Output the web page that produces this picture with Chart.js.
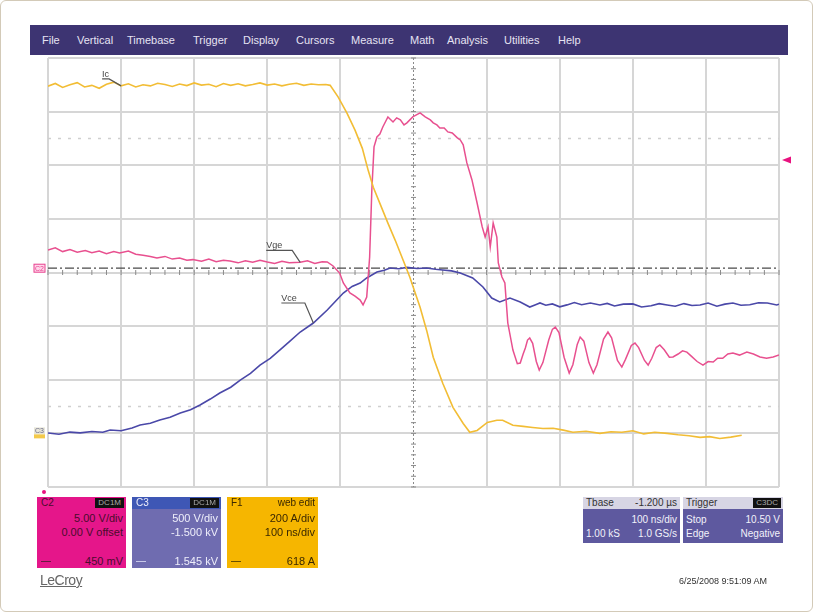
<!DOCTYPE html>
<html>
<head>
<meta charset="utf-8">
<script src="https://cdn.jsdelivr.net/npm/chart.js@4.4.1/dist/chart.umd.min.js"></script>
<style>
body { margin:0; width:815px; height:613px; background:#fff; overflow:hidden; position:relative;
       font-family:"Liberation Sans", Arial, sans-serif; }
#frame { position:absolute; left:0; top:0; width:811px; height:610px; border:1px solid #d3cab8; border-radius:6px; }
#scope { position:absolute; left:0; top:0; }
#menu { position:absolute; left:30px; top:25px; width:758px; height:30px; background:#3d3472; }
#menu span { position:absolute; top:9px; font-size:11px; color:#e6e3f3; }
.box { position:absolute; top:497px; height:71px; font-size:10px; }
.box div { position:absolute; white-space:nowrap; }
.hdr { left:0; top:0; right:0; height:12px; }
.badge { top:1px; right:2px; height:10px; padding:0 3px; background:#111; color:#aaa; font-size:8px; line-height:10px; }
.tb { position:absolute; top:497px; height:46px; font-size:10px; background:#5e599f; color:#f2f2fa; }
.tb div { position:absolute; white-space:nowrap; }
.tb .hdr { background:#d7d5e4; color:#333; }
</style>
</head>
<body>
<div id="frame"></div>
<canvas id="scope" width="815" height="613"></canvas>

<div id="menu">
  <span style="left:12px">File</span>
  <span style="left:47px">Vertical</span>
  <span style="left:97px">Timebase</span>
  <span style="left:163px">Trigger</span>
  <span style="left:213px">Display</span>
  <span style="left:266px">Cursors</span>
  <span style="left:321px">Measure</span>
  <span style="left:380px">Math</span>
  <span style="left:417px">Analysis</span>
  <span style="left:474px">Utilities</span>
  <span style="left:528px">Help</span>
</div>

<div class="box" style="left:37px; width:89px; background:#e5168a; color:#4a0c2c;">
  <div class="hdr"><div style="left:4px; top:0">C2</div><div class="badge">DC1M</div></div>
  <div style="right:3px; top:15px; font-size:11px">5.00 V/div</div>
  <div style="right:3px; top:29px; font-size:11px">0.00 V offset</div>
  <div style="left:4px; bottom:6px; width:10px; height:1px; background:#6a1a40"></div>
  <div style="right:3px; bottom:1px; font-size:11px">450 mV</div>
</div>
<div class="box" style="left:132px; width:89px; background:#6f6cb0; color:#eeeefa;">
  <div class="hdr" style="background:#3e57b5"><div style="left:4px; top:0">C3</div><div class="badge">DC1M</div></div>
  <div style="right:3px; top:15px; font-size:11px">500 V/div</div>
  <div style="right:3px; top:29px; font-size:11px">-1.500 kV</div>
  <div style="left:4px; bottom:6px; width:10px; height:1px; background:#c8c8e8"></div>
  <div style="right:3px; bottom:1px; font-size:11px">1.545 kV</div>
</div>
<div class="box" style="left:227px; width:91px; background:#f6b600; color:#3a2800;">
  <div class="hdr"><div style="left:4px; top:0">F1</div><div style="right:3px; top:0">web edit</div></div>
  <div style="right:3px; top:15px; font-size:11px">200 A/div</div>
  <div style="right:3px; top:29px; font-size:11px">100 ns/div</div>
  <div style="left:4px; bottom:6px; width:10px; height:1px; background:#6a5000"></div>
  <div style="right:3px; bottom:1px; font-size:11px">618 A</div>
</div>

<div class="tb" style="left:583px; width:97px;">
  <div class="hdr"><div style="left:3px">Tbase</div><div style="right:3px">-1.200 µs</div></div>
  <div style="right:3px; top:17px">100 ns/div</div>
  <div style="left:3px; top:31px">1.00 kS</div>
  <div style="right:3px; top:31px">1.0 GS/s</div>
</div>
<div class="tb" style="left:683px; width:100px;">
  <div class="hdr"><div style="left:3px">Trigger</div><div class="badge">C3DC</div></div>
  <div style="left:3px; top:17px">Stop</div>
  <div style="right:3px; top:17px">10.50 V</div>
  <div style="left:3px; top:31px">Edge</div>
  <div style="right:3px; top:31px">Negative</div>
</div>

<div style="position:absolute; left:40px; top:572px; font-size:14px; color:#666; text-decoration:underline; letter-spacing:-0.5px">LeCroy</div>
<div style="position:absolute; left:679px; top:576px; font-size:9px; color:#333">6/25/2008 9:51:09 AM</div>

<script>
// collector current Ic (F1, 200 A/div), time in ns from left edge of screen
const icTime = [0,10,20,30,40,50,60,70,80,90,100,110,120,130,140,150,160,170,180,190,
                200,210,220,230,240,250,260,270,280,290,300,310,320,330,340,350,360,370,380,386,
                397,409,420,430,438,445,454,465,475,486,495,509,518,527,540,554,568,577,587,601,
                614,622,636,650,663,677,691,705,718,736,755,770,785,800,815,830,847,862,877,892,
                905,919,934,949];
const icAmps = [1295,1305,1290,1300,1308,1292,1298,1287,1302,1310,1296,1304,1292,1300,1296,1306,1301,1294,1303,1297,
                1307,1299,1302,1293,1305,1298,1304,1296,1301,1307,1299,1303,1296,1302,1306,1298,1303,1300,1301,1298,
                1254,1194,1131,1063,981,918,858,784,720,645,582,470,384,284,187,97,37,4,11,41,
                49,49,30,26,22,18,19,12,4,8,0,6,4,10,-2,4,0,-5,-9,-15,
                -12,-19,-14,-7];

// gate voltage Vge (C2, 5 V/div)
const vgeTime = [0,10,20,30,40,51,60,70,80,90,
                 98,110,120,130,140,149,160,170,180,190,
                 198,210,220,230,240,249,260,270,280,290,
                 300,310,320,330,345,355,365,375,382,390,
                 399,404,413,420,427,431,436,440,443,446,
                 450,454,458,465,472,477,482,487,491,499,
                 509,516,523,527,532,536,542,547,553,560,
                 564,568,573,580,587,594,598,602,605,609,
                 614,616,621,625,629,636,642,646,650,653,
                 656,659,663,668,672,677,685,690,694,699,
                 706,713,718,724,728,733,740,746,751,760,
                 766,771,779,785,790,798,803,808,816,821,
                 826,832,837,843,850,855,862,868,874,880,
                 888,896,903,910,916,923,930,937,946,956,
                 965,974,983,992,1000];
const vgeVolts = [2.1,2.3,1.95,2.15,1.9,2.05,1.85,2.0,1.75,1.95,
                  1.82,2.0,1.7,1.6,1.5,1.35,1.5,1.25,1.35,1.15,
                  1.2,1.05,1.25,1.0,1.15,1.07,0.9,1.1,0.95,1.15,
                  0.98,0.85,1.05,0.9,0.95,1.1,0.85,1.0,0.98,0.61,
                  -0.05,-0.98,-1.91,-2.2,-2.57,-3.03,-2.29,1.45,7.7,11.71,
                  12.64,12.9,13.57,14.51,14.04,14.42,14.23,13.76,13.95,14.51,
                  14.88,14.51,14.23,13.95,13.76,13.48,13.48,13.11,13.01,12.55,
                  12.36,11.9,10.22,8.63,6.48,4.25,3.31,4.25,2.38,4.62,
                  3.31,0.89,-0.42,-0.98,-4.71,-7.23,-8.5,-8.44,-7.6,-7.04,
                  -6.3,-6.11,-6.6,-8.3,-9.1,-8.4,-6.3,-5.3,-5.08,-5.6,
                  -7.9,-9.38,-8.6,-6.7,-6.02,-6.4,-8.4,-9.38,-8.6,-6.2,
                  -5.55,-6.1,-8.2,-8.82,-8.1,-6.8,-6.58,-7.0,-8.2,-8.63,
                  -8.0,-7.0,-6.76,-7.2,-7.9,-7.88,-7.6,-7.3,-7.42,-7.8,
                  -8.3,-8.63,-8.3,-8.35,-8.0,-8.0,-7.6,-7.51,-7.7,-7.42,
                  -7.6,-7.88,-8.0,-7.88,-7.7];

// collector-emitter voltage Vce (C3, 500 V/div, -1.500 kV offset)
const vceTime = [0,15,30,44,60,75,85,100,115,126,
                 140,153,167,181,195,208,222,235,250,263,
                 277,290,304,317,331,345,363,382,393,404,
                 416,427,436,450,460,468,480,491,505,518,
                 530,540,552,564,581,595,607,618,632,646,
                 659,667,673,681,690,700,710,720,730,742,
                 755,765,775,787,800,812,825,836,847,858,
                 870,881,892,903,915,926,937,948,960,972,
                 984,997,1000];
const vceVolts = [3,-8,12,5,18,10,31,25,50,78,
                  95,124,150,189,220,264,320,376,430,497,
                  560,637,700,777,860,945,1029,1150,1230,1309,
                  1370,1402,1449,1505,1520,1542,1535,1548,1538,1542,
                  1530,1523,1515,1495,1449,1365,1262,1225,1262,1225,
                  1178,1200,1216,1195,1207,1180,1198,1220,1200,1216,
                  1197,1212,1188,1205,1207,1178,1190,1210,1197,1185,
                  1210,1192,1197,1215,1185,1205,1216,1195,1200,1218,
                  1216,1197,1205];

const refLevelDiv = 0.08;   // dash-dot reference line, in divisions from centre
const trigMarkerDiv = 2.1;  // trigger level arrow on right edge

function toPoints(xs, ys) {
    return xs.map((x, i) => ({x: x, y: ys[i]}));
}

const scopeDecor = {
    id: "scopeDecor",
    beforeDatasetsDraw(chart) {
        const c = chart.ctx;
        const sx = chart.scales.x, sy = chart.scales.y;
        const xc = sx.getPixelForValue(500), yc = sy.getPixelForValue(0);
        c.save();
        // dotted lines at +/- 2.5 div
        c.strokeStyle = "#cfcfcf";
        c.lineWidth = 1.5;
        c.setLineDash([3, 7]);
        [2.5, -2.5].forEach(v => {
            const y = sy.getPixelForValue(v);
            c.beginPath(); c.moveTo(sx.left, y); c.lineTo(sx.right, y); c.stroke();
        });
        // centre vertical, dotted with minor ticks
        c.strokeStyle = "#8a8a8a";
        c.lineWidth = 1;
        c.setLineDash([2, 2]);
        c.beginPath(); c.moveTo(xc, sy.top); c.lineTo(xc, sy.bottom); c.stroke();
        c.setLineDash([]);
        for (let v = -4; v <= 4.001; v += 0.2) {
            const y = sy.getPixelForValue(v);
            c.beginPath(); c.moveTo(xc - 2.5, y); c.lineTo(xc + 2.5, y); c.stroke();
        }
        for (let t = 0; t <= 1000.1; t += 20) {
            const x = sx.getPixelForValue(t);
            c.beginPath(); c.moveTo(x, yc - 2.5); c.lineTo(x, yc + 2.5); c.stroke();
        }
        // dash-dot reference
        const yr = sy.getPixelForValue(refLevelDiv);
        c.strokeStyle = "#4a4a4a";
        c.lineWidth = 1.3;
        c.setLineDash([9, 3, 2, 3]);
        c.beginPath(); c.moveTo(sx.left, yr); c.lineTo(sx.right, yr); c.stroke();
        c.restore();
    },
    afterDraw(chart) {
        const c = chart.ctx;
        const sx = chart.scales.x, sy = chart.scales.y;
        c.save();
        // trace tags
        c.font = "9px 'Liberation Sans', Arial, sans-serif";
        c.fillStyle = "#444";
        c.strokeStyle = "#555";
        c.lineWidth = 1.2;
        const tags = [
            {text: "Ic",  t: 100, v: icAmps[10],  ax: "ic",  dx: -19, dy: -7, run: 0},
            {text: "Vge", t: 345, v: vgeVolts[34], ax: "vge", dx: -34, dy: -12, run: 10},
            {text: "Vce", t: 363, v: vceVolts[26], ax: "vce", dx: -32, dy: -20, run: 8}
        ];
        tags.forEach(g => {
            const px = sx.getPixelForValue(g.t), py = chart.scales[g.ax].getPixelForValue(g.v);
            const lx = px + g.dx, ly = py + g.dy;
            c.fillText(g.text, lx, ly - 2);
            const w = c.measureText(g.text).width;
            c.beginPath();
            c.moveTo(lx, ly);
            c.lineTo(lx + w + g.run, ly);
            c.lineTo(px, py);
            c.stroke();
        });
        // channel markers on left edge
        const y2 = sy.getPixelForValue(refLevelDiv);
        c.font = "7px 'Liberation Sans', Arial, sans-serif";
        c.fillStyle = "#ffd6ea";
        c.fillRect(sx.left - 14, y2 - 4, 11, 8);
        c.strokeStyle = "#e8418f";
        c.lineWidth = 1;
        c.strokeRect(sx.left - 14, y2 - 4, 11, 8);
        c.fillStyle = "#e8418f";
        c.fillText("C2", sx.left - 13, y2 + 3);
        const y3 = chart.scales.vce.getPixelForValue(0);
        c.fillStyle = "#e8e6d8";
        c.fillRect(sx.left - 14, y3 - 6, 11, 7);
        c.fillStyle = "#f3c94a";
        c.fillRect(sx.left - 14, y3 + 1, 11, 4);
        c.fillStyle = "#6a6a8a";
        c.fillText("C3", sx.left - 13, y3);
        // trigger level arrow
        const yt = sy.getPixelForValue(trigMarkerDiv);
        c.fillStyle = "#e8127f";
        c.beginPath();
        c.moveTo(sx.right + 3, yt);
        c.lineTo(sx.right + 12, yt - 3.5);
        c.lineTo(sx.right + 12, yt + 3.5);
        c.closePath();
        c.fill();
        // small marker below grid
        c.beginPath();
        c.arc(sx.left - 4, sy.bottom + 5, 2, 0, Math.PI * 2);
        c.fill();
        c.restore();
    }
};

const gridColor = "#d6d6d6";

const chartobj = new Chart(document.getElementById("scope"), {
    type: "line",
    data: {
        datasets: [
            {label: "Ic", data: toPoints(icTime, icAmps), yAxisID: "ic",
             borderColor: "#f2bd35", borderWidth: 1.6},
            {label: "Vge", data: toPoints(vgeTime, vgeVolts), yAxisID: "vge",
             borderColor: "#e8508f", borderWidth: 1.5},
            {label: "Vce", data: toPoints(vceTime, vceVolts), yAxisID: "vce",
             borderColor: "#4a48a8", borderWidth: 1.6}
        ]
    },
    options: {
        responsive: false,
        animation: false,
        devicePixelRatio: 1,
        layout: {padding: {left: 48, top: 58, right: 36, bottom: 126}},
        elements: {point: {radius: 0}, line: {tension: 0}},
        plugins: {legend: {display: false}, tooltip: {enabled: false}},
        scales: {
            x: {type: "linear", min: 0, max: 1000,
                ticks: {display: false, stepSize: 100},
                grid: {drawTicks: false, lineWidth: 2,
                       color: ctx => ctx.tick && ctx.tick.value === 500 ? "rgba(0,0,0,0)" : gridColor},
                border: {display: false}},
            y: {type: "linear", min: -4, max: 4,
                ticks: {display: false, stepSize: 1},
                grid: {drawTicks: false, lineWidth: 2, color: gridColor},
                border: {display: false}},
            ic:  {type: "linear", display: false, min: -200, max: 1400},
            vge: {type: "linear", display: false, min: -20, max: 20},
            vce: {type: "linear", display: false, min: -500, max: 3500}
        }
    },
    plugins: [scopeDecor]
});
</script>
</body>
</html>
